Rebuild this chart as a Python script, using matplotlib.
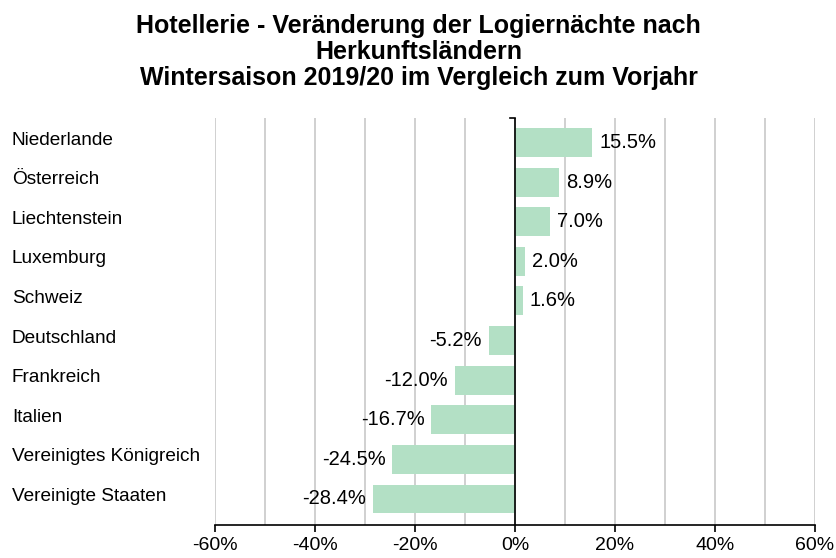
import matplotlib
matplotlib.use("Agg")
import matplotlib.pyplot as plt
from matplotlib.transforms import blended_transform_factory
import numpy as np

plt.rcParams['font.family'] = ['Liberation Sans', 'DejaVu Sans']

countries = ["Niederlande", "Österreich", "Liechtenstein", "Luxemburg", "Schweiz",
             "Deutschland", "Frankreich", "Italien", "Vereinigtes Königreich",
             "Vereinigte Staaten"]
values = [15.5, 8.9, 7.0, 2.0, 1.6, -5.2, -12.0, -16.7, -24.5, -28.4]
xticks = [-60, -40, -20, 0, 20, 40, 60]
title = ("Hotellerie - Veränderung der Logiernächte nach\nHerkunftsländern\n"
         "Wintersaison 2019/20 im Vergleich zum Vorjahr")

W, H = 837, 558
fig = plt.figure(figsize=(W / 100, H / 100), dpi=100)
ax = fig.add_axes([215 / W, 1 - 525 / H, 600 / W, 407 / H])

ypos = np.arange(len(countries))
ax.barh(ypos, values, height=0.73, color="#b3e0c5", zorder=2)
ax.set_ylim(9.657, -0.619)
ax.set_xlim(-60, 60)

for x in range(-60, 61, 10):
    ax.axvline(x, color="#c8c8c8", lw=1.2, zorder=1)
ax.axvline(0, color="black", lw=1.2, zorder=3)

ax.set_xticks(xticks)
ax.set_xticklabels([f"{t}%" for t in xticks], fontsize=14)
ax.tick_params(axis="x", direction="out", length=5, width=1.2, pad=4, color="black")
ax.set_yticks([])
for s in ["top", "left", "right"]:
    ax.spines[s].set_visible(False)
ax.spines["bottom"].set_linewidth(1.2)

# small tick at top of zero line
ax.plot([-1, 0], [-0.619, -0.619], color="black", lw=1.2, clip_on=False, zorder=3)

for y, v in zip(ypos, values):
    if v >= 0:
        ax.annotate(f"{v:.1f}%", (v, y), xytext=(5, 0), textcoords="offset points",
                    ha="left", va="center", fontsize=14.5, zorder=4)
    else:
        ax.annotate(f"{v:.1f}%", (v, y), xytext=(-5, 0), textcoords="offset points",
                    ha="right", va="center", fontsize=14.5, zorder=4)

trans = blended_transform_factory(fig.transFigure, ax.transData)
for y, c in zip(ypos, countries):
    ax.text(12 / W, y - 0.06, c, transform=trans, ha="left", va="center", fontsize=13.7)

fig.text(0.5, 1 - 52 / H, title, ha="center", va="center", fontsize=18,
         fontweight="bold", linespacing=1.1)

fig.savefig("out.png", dpi=100)
